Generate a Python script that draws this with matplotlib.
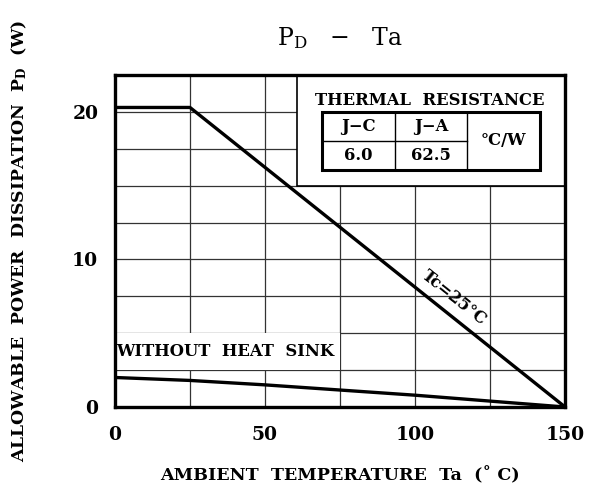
import numpy as np
import matplotlib.pyplot as plt
from matplotlib.patches import Rectangle

plt.rcParams['font.family'] = 'DejaVu Serif'
plt.rcParams['mathtext.fontset'] = 'dejavuserif'

# Tc = 25 C derating curve
ta_tc = [0, 25, 150]
pd_tc = [20.3, 20.3, 0]

# without heat sink
ta_free = [0, 25, 50, 75, 100, 125, 150]
pd_free = [2.0, 1.8, 1.5, 1.15, 0.8, 0.4, 0]

# thermal resistance table
rth_head = ['J\u2212C', 'J\u2212A']
rth_vals = ['6.0', '62.5']

fig = plt.figure(figsize=(6.05, 5.0), dpi=100)
ax = fig.add_axes([0.19, 0.186, 0.744, 0.664])

ax.plot(ta_tc, pd_tc, color='black', lw=2.4, zorder=5, solid_capstyle='butt')
ax.plot(ta_free, pd_free, color='black', lw=2.4, zorder=5, solid_capstyle='butt')

ax.set_xlim(0, 150)
ax.set_ylim(0, 22.5)
xt = np.arange(0, 151, 25)
yt = np.arange(0, 22.6, 2.5)
ax.set_xticks(xt)
ax.set_xticklabels([f'{v:g}' if v % 50 == 0 else '' for v in xt], fontweight='bold')
ax.set_yticks(yt)
ax.set_yticklabels([f'{v:g}' if v % 10 == 0 else '' for v in yt], fontweight='bold')
ax.grid(True, color='#333333', lw=0.9)
ax.tick_params(length=0)
ax.tick_params(axis='x', pad=14, labelsize=13.5)
ax.tick_params(axis='y', pad=12, labelsize=13.5)
for s in ax.spines.values():
    s.set_linewidth(2.4)
    s.set_zorder(10)

# white label areas over the grid
ax.add_patch(Rectangle((60.7, 15), 89.3, 7.5, facecolor='white', edgecolor='black', lw=1.2, zorder=3))
ax.add_patch(Rectangle((0, 2.5), 75, 2.5, facecolor='white', edgecolor='none', zorder=3))

fs = 11.8
bold = dict(fontsize=fs, fontweight='bold')
ax.text(105, 20.75, 'THERMAL  RESISTANCE', ha='center', va='center', zorder=6, **bold)
x0, x1, x2, x3 = 69, 93.3, 117.3, 141.7
y0, ym, y1 = 16.05, 18.03, 20.0
ax.add_patch(Rectangle((x0, y0), x3 - x0, y1 - y0, facecolor='white', edgecolor='black', lw=2.2, zorder=6))
ax.plot([x1, x1], [y0, y1], color='black', lw=1.0, zorder=7)
ax.plot([x2, x2], [y0, y1], color='black', lw=1.0, zorder=7)
ax.plot([x0, x2], [ym, ym], color='black', lw=1.0, zorder=7)
for i, (h, v) in enumerate(zip(rth_head, rth_vals)):
    xc = (x0 + x1) / 2 if i == 0 else (x1 + x2) / 2
    ax.text(xc, (ym + y1) / 2, h, ha='center', va='center', zorder=8, **bold)
    ax.text(xc, (y0 + ym) / 2, v, ha='center', va='center', zorder=8, **bold)
ax.text((x2 + x3) / 2, ym, '\u00b0C/W', ha='center', va='center', zorder=8, **bold)

ax.text(0.5, 3.75, 'WITHOUT  HEAT  SINK', ha='left', va='center', zorder=6, **bold)
ax.text(113, 7.4, 'Tc=25\u00b0C', ha='center', va='center', rotation=-38.6,
        rotation_mode='anchor', zorder=6, **bold)

ax.set_xlabel('AMBIENT  TEMPERATURE  Ta  (\u02da C)', fontsize=12.6, fontweight='bold', labelpad=16)
ax.set_ylabel(r'ALLOWABLE  POWER  DISSIPATION  P$_{\bf D}$  (W)', fontsize=12.4,
              fontweight='bold', labelpad=31)
fig.text(0.562, 0.924, r'P$_{\rm D}$   $-$   Ta', ha='center', va='center', fontsize=17)

fig.savefig('out.png', dpi=100)
